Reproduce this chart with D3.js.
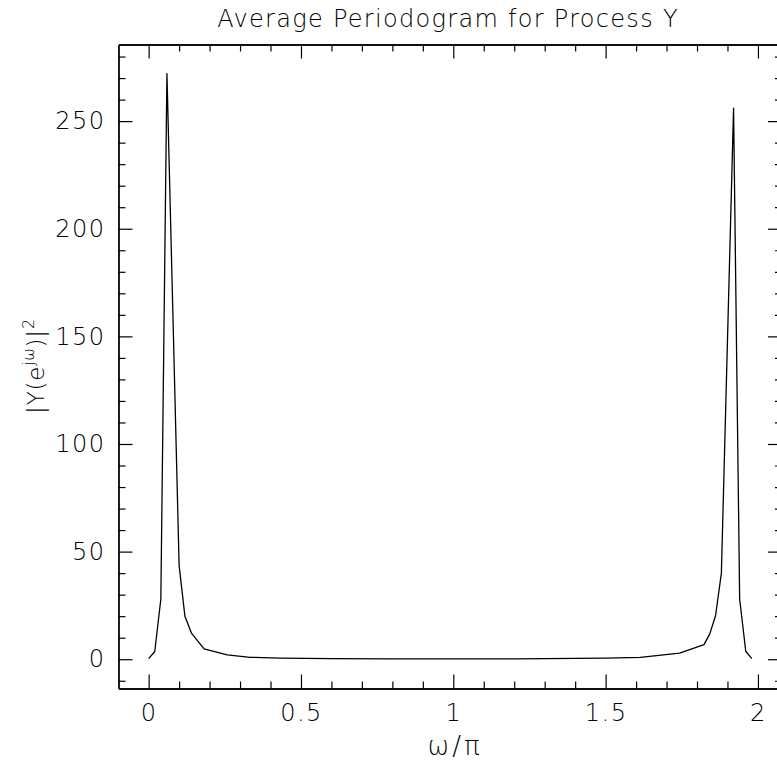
<!DOCTYPE html>
<html>
<head>
<meta charset="utf-8">
<script src="https://cdn.jsdelivr.net/npm/d3@7"></script>
<style>
  body { margin: 0; background: #fff; }
  svg { display: block; }
  text { font-family: "DejaVu Sans", sans-serif; font-weight: 200; fill: #000; }
</style>
</head>
<body>
<div id="wrapper"></div>
<script>
// normalised frequency (omega / pi) of each plotted vertex
const omega = [0, 0.02, 0.04, 0.06, 0.1, 0.119, 0.141, 0.182, 0.258, 0.333, 0.431,
  0.6, 0.8, 1.0, 1.2, 1.4, 1.5, 1.614, 1.743, 1.823, 1.842, 1.861, 1.88, 1.92, 1.94, 1.96, 1.98]
// averaged periodogram |Y(e^jw)|^2
const power = [0.3, 3.6, 28, 272, 43.5, 20, 12, 4.8, 2.0, 0.9, 0.5,
  0.3, 0.2, 0.15, 0.2, 0.35, 0.5, 0.9, 2.8, 6.8, 11.8, 20.3, 40, 256, 28, 3.7, 0.3]

const xMajor = [0, 0.5, 1, 1.5, 2]
const xLabels = ["0", "0.5", "1", "1.5", "2"]
const yMajor = [0, 50, 100, 150, 200, 250]
const yLabels = ["0", "50", "100", "150", "200", "250"]

const data = omega.map((w, i) => ({ w: w, p: power[i] }))

let dimensions = {
  width: 777,
  height: 768,
  margin: { top: 44.5, right: -5, bottom: 79.5, left: 118.5 },
}
dimensions.boundedWidth = dimensions.width - dimensions.margin.left - dimensions.margin.right
dimensions.boundedHeight = dimensions.height - dimensions.margin.top - dimensions.margin.bottom

const wrapper = d3.select("#wrapper")
  .append("svg")
    .attr("width", dimensions.width)
    .attr("height", dimensions.height)

const bounds = wrapper.append("g")
    .attr("transform", `translate(${dimensions.margin.left},${dimensions.margin.top})`)

const xAccessor = d => d.w
const yAccessor = d => d.p

// 5% padding on each side, like the original plot
const pad = ([a, b]) => [a - (b - a) * 0.05, b + (b - a) * 0.05]
const xScale = d3.scaleLinear()
  .domain(pad(d3.extent(data, xAccessor)))
  .range([0, dimensions.boundedWidth])
const yScale = d3.scaleLinear()
  .domain(pad([0, d3.max(data, yAccessor)]))
  .range([dimensions.boundedHeight, 0])

const xMinor = d3.range(0, 2.001, 0.1).map(v => +v.toFixed(1)).filter(v => !xMajor.includes(v))
const yMinor = d3.range(-10, 281, 10).filter(v => !yMajor.includes(v))

const styleAxis = g => {
  g.select(".domain").attr("stroke", "#000").attr("stroke-width", 1.3)
  g.selectAll(".tick line").attr("stroke", "#000").attr("stroke-width", 1.2)
  g.selectAll("text")
    .attr("font-size", 24)
    .attr("font-family", "DejaVu Sans")
    .attr("font-weight", 200)
    .attr("letter-spacing", 1.5)
}

// bottom
bounds.append("g")
  .attr("transform", `translate(0,${dimensions.boundedHeight})`)
  .call(d3.axisBottom(xScale).tickValues(xMajor).tickSize(-14).tickPadding(15)
    .tickFormat((d, i) => xLabels[i]).tickSizeOuter(0))
  .call(styleAxis)
bounds.append("g")
  .attr("transform", `translate(0,${dimensions.boundedHeight})`)
  .call(d3.axisBottom(xScale).tickValues(xMinor).tickSize(-7).tickFormat("").tickSizeOuter(0))
  .call(styleAxis)

// top
bounds.append("g")
  .call(d3.axisTop(xScale).tickValues(xMajor).tickSize(-14).tickFormat("").tickSizeOuter(0))
  .call(styleAxis)
bounds.append("g")
  .call(d3.axisTop(xScale).tickValues(xMinor).tickSize(-7).tickFormat("").tickSizeOuter(0))
  .call(styleAxis)

// left
bounds.append("g")
  .call(d3.axisLeft(yScale).tickValues(yMajor).tickSize(-14).tickPadding(13)
    .tickFormat((d, i) => yLabels[i]).tickSizeOuter(0))
  .call(styleAxis)
bounds.append("g")
  .call(d3.axisLeft(yScale).tickValues(yMinor).tickSize(-7).tickFormat("").tickSizeOuter(0))
  .call(styleAxis)

// right
bounds.append("g")
  .attr("transform", `translate(${dimensions.boundedWidth},0)`)
  .call(d3.axisRight(yScale).tickValues(yMajor).tickSize(-14).tickFormat("").tickSizeOuter(0))
  .call(styleAxis)
bounds.append("g")
  .attr("transform", `translate(${dimensions.boundedWidth},0)`)
  .call(d3.axisRight(yScale).tickValues(yMinor).tickSize(-7).tickFormat("").tickSizeOuter(0))
  .call(styleAxis)

const lineGenerator = d3.line()
  .x(d => xScale(xAccessor(d)))
  .y(d => yScale(yAccessor(d)))

bounds.append("path")
  .attr("d", lineGenerator(data))
  .attr("fill", "none")
  .attr("stroke", "#000")
  .attr("stroke-width", 1.3)
  .attr("stroke-linejoin", "round")

// title + labels
wrapper.append("text")
  .attr("x", 448)
  .attr("y", 27)
  .attr("text-anchor", "middle")
  .attr("font-size", 24)
  .attr("letter-spacing", 1.3)
  .text("Average Periodogram for Process Y")

wrapper.append("text")
  .attr("x", 455)
  .attr("y", 755)
  .attr("text-anchor", "middle")
  .attr("font-size", 26)
  .attr("letter-spacing", 3)
  .text("ω/π")

const yLabel = wrapper.append("text")
  .attr("transform", "translate(44,366) rotate(-90)")
  .attr("text-anchor", "middle")
  .attr("font-size", 23)
  .attr("letter-spacing", 0.8)
yLabel.append("tspan").text("|Y(e")
yLabel.append("tspan").attr("font-size", 15).attr("dy", -10).text("jω")
yLabel.append("tspan").attr("dy", 10).text(")|")
yLabel.append("tspan").attr("font-size", 16).attr("dy", -10).text("2")
</script>
</body>
</html>
